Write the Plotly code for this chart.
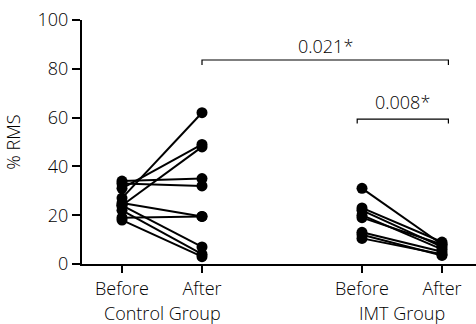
import plotly.graph_objects as go

# Data
x_ticks = [0, 1, 3, 4]
tick_labels = ["Before", "After", "Before", "After"]
group_labels = ["Control Group", "IMT Group"]

control_before = [27, 31, 24, 34, 33, 25, 19, 24, 22, 18]
control_after = [62, 49, 48, 35, 32, 19.5, 19.5, 7, 4, 3]

imt_before = [31, 23, 22, 20, 19, 13, 12, 10.5]
imt_after = [8, 9, 7, 6, 8, 5, 3.5, 4]

p_labels = ["0.021*", "0.008*"]

FONT = dict(family="Open Sans, sans-serif", size=18, color="#000000", weight=300)

fig = go.Figure()
for b, a in zip(control_before, control_after):
    fig.add_trace(go.Scatter(x=[x_ticks[0], x_ticks[1]], y=[b, a], mode="lines+markers",
                             line=dict(color="black", width=2),
                             marker=dict(color="black", size=11), showlegend=False,
                             cliponaxis=False))
for b, a in zip(imt_before, imt_after):
    fig.add_trace(go.Scatter(x=[x_ticks[2], x_ticks[3]], y=[b, a], mode="lines+markers",
                             line=dict(color="black", width=2),
                             marker=dict(color="black", size=11), showlegend=False,
                             cliponaxis=False))

# significance brackets
brackets = [
    (1.0, 4.08, 83.6, 81.6, 89.5, p_labels[0]),
    (2.94, 4.08, 59.4, 57.6, 66.4, p_labels[1]),
]
for x0, x1, yb, yt, ytext, lab in brackets:
    fig.add_shape(type="path", xref="x", yref="y",
                  path=f"M {x0},{yt} L {x0},{yb} L {x1},{yb} L {x1},{yt}",
                  line=dict(color="black", width=1.2))
    fig.add_annotation(x=(x0 + x1) / 2, y=ytext, xref="x", yref="y", text=lab,
                       showarrow=False, font=FONT, yanchor="middle")

# group labels
fig.add_annotation(x=0.5, y=0, xref="x", yref="paper", yshift=-49, text=group_labels[0],
                   showarrow=False, font=FONT, yanchor="middle")
fig.add_annotation(x=3.5, y=0, xref="x", yref="paper", yshift=-49, text=group_labels[1],
                   showarrow=False, font=FONT, yanchor="middle")

fig.update_layout(
    width=476, height=324,
    margin=dict(l=82, r=0, t=20, b=60),
    plot_bgcolor="white", paper_bgcolor="white",
    font=FONT,
    xaxis=dict(range=[-0.5, 4.425], tickvals=x_ticks, ticktext=tick_labels,
               showgrid=False, zeroline=False, showline=True, linecolor="black",
               linewidth=2, ticks="outside", ticklen=7, tickwidth=2, tickcolor="black",
               tickfont=FONT, automargin=False),
    yaxis=dict(range=[0, 100], tickvals=[0, 20, 40, 60, 80, 100],
               showgrid=False, zeroline=False, showline=True, linecolor="black",
               linewidth=2, ticks="outside", ticklen=8, tickwidth=2, tickcolor="black",
               tickfont=FONT, automargin=False,
               title=dict(text="% RMS", font=FONT, standoff=12)),
)

fig.write_html("out.html", config={"displayModeBar": False},
               post_script="document.body.style.margin='0';")
